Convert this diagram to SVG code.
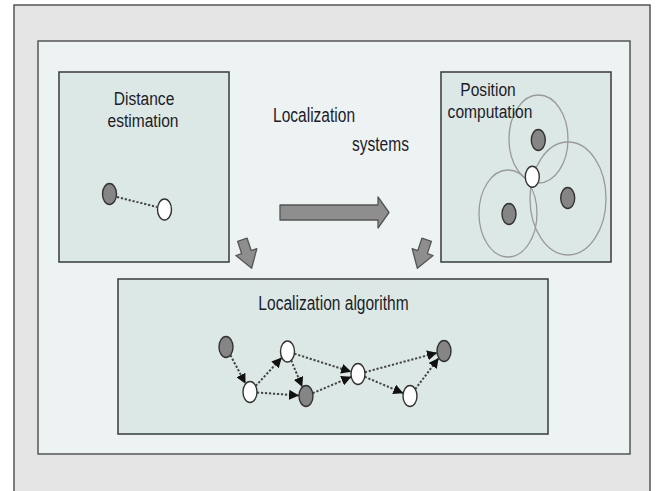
<svg xmlns="http://www.w3.org/2000/svg" width="661" height="491" viewBox="0 0 661 491">
  <defs>
    <style>
      .frame { fill: #e5e5e5; stroke: #555; stroke-width: 1.5; }
      .panel { fill: #edf3f3; stroke: #555; stroke-width: 1.5; }
      .box { fill: #dce8e5; stroke: #444; stroke-width: 1.6; }
      .lbl { font-family: "Liberation Sans", Arial, sans-serif; font-size: 21px; fill: #1c1c2a; }
      .sm { font-size: 19px; }
      .mid { text-anchor: middle; }
      .dark { fill: #858585; stroke: #333; stroke-width: 1.4; }
      .light { fill: #ffffff; stroke: #333; stroke-width: 1.4; }
      .ring { fill: none; stroke: #9a9a9a; stroke-width: 1.3; }
      .link { fill: none; stroke: #444; stroke-width: 2; stroke-dasharray: 2.2 1.8; }
      .block { fill: #8e8e8e; stroke: #555; stroke-width: 1.3; stroke-linejoin: round; }
    </style>
    <marker id="head" markerUnits="userSpaceOnUse" markerWidth="11" markerHeight="10" refX="10" refY="5" orient="auto">
      <path d="M0,0 L10,5 L0,10 Z" fill="#111"/>
    </marker>
  </defs>

  <!-- background frame and inner panel -->
  <rect class="frame" x="14" y="5" width="636" height="500"/>
  <rect class="panel" x="38" y="41" width="592" height="413"/>

  <!-- distance estimation -->
  <g id="distance-estimation">
    <rect class="box" x="59" y="72" width="170" height="190"/>
    <text class="lbl sm mid" transform="translate(144,105) scale(0.82,1)">Distance</text>
    <text class="lbl sm mid" transform="translate(143,127) scale(0.82,1)">estimation</text>
    <line class="link" x1="117" y1="197" x2="157" y2="207"/>
    <ellipse class="dark" cx="109.5" cy="194" rx="7" ry="10.5"/>
    <ellipse class="light" cx="164.5" cy="209.5" rx="7" ry="10.5"/>
  </g>

  <!-- position computation -->
  <g id="position-computation">
    <rect class="box" x="441" y="72" width="170" height="190"/>
    <ellipse class="ring" cx="538.5" cy="139" rx="29.5" ry="44"/>
    <ellipse class="ring" cx="568" cy="198.5" rx="38" ry="56.5"/>
    <ellipse class="ring" cx="508" cy="213.5" rx="29" ry="43.5"/>
    <ellipse class="dark" cx="538.3" cy="140" rx="7" ry="10.5"/>
    <ellipse class="dark" cx="567.7" cy="198" rx="7" ry="10.5"/>
    <ellipse class="dark" cx="509" cy="214" rx="7" ry="10.5"/>
    <ellipse class="light" cx="532.3" cy="176.7" rx="7" ry="10.5"/>
    <text class="lbl sm mid" transform="translate(488,95.5) scale(0.82,1)">Position</text>
    <text class="lbl sm mid" transform="translate(490,117.5) scale(0.82,1)">computation</text>
  </g>

  <!-- centre caption -->
  <g id="localization-systems">
    <text class="lbl" transform="translate(273,122) scale(0.74,1)">Localization</text>
    <text class="lbl" transform="translate(352,151) scale(0.74,1)">systems</text>
  </g>

  <!-- localization algorithm -->
  <g id="localization-algorithm">
    <rect class="box" x="118" y="279" width="430" height="155"/>
    <text class="lbl mid" transform="translate(333.5,310) scale(0.74,1)">Localization algorithm</text>
    <g id="algorithm-links">
      <line class="link" x1="230.4" y1="355.2" x2="245.6" y2="383.8" marker-end="url(#head)"/>
      <line class="link" x1="255.7" y1="385.9" x2="281.8" y2="357.6" marker-end="url(#head)"/>
      <line class="link" x1="257" y1="392.5" x2="299" y2="395.5" marker-end="url(#head)"/>
      <line class="link" x1="291.2" y1="360.4" x2="302.3" y2="387.1" marker-end="url(#head)"/>
      <line class="link" x1="294.4" y1="353.7" x2="351.2" y2="371.8" marker-end="url(#head)"/>
      <line class="link" x1="312.7" y1="393.2" x2="351.3" y2="376.8" marker-end="url(#head)"/>
      <line class="link" x1="364.9" y1="372.2" x2="437.1" y2="352.8" marker-end="url(#head)"/>
      <line class="link" x1="364.7" y1="376.8" x2="403.3" y2="393.2" marker-end="url(#head)"/>
      <line class="link" x1="415.3" y1="389.1" x2="438.7" y2="358" marker-end="url(#head)"/>
    </g>
    <g id="algorithm-nodes">
      <ellipse class="dark" cx="226" cy="347" rx="7" ry="10.5"/>
      <ellipse class="light" cx="250" cy="392" rx="7" ry="10.5"/>
      <ellipse class="light" cx="287.5" cy="351.5" rx="7" ry="10.5"/>
      <ellipse class="dark" cx="306" cy="396" rx="7" ry="10.5"/>
      <ellipse class="light" cx="358" cy="374" rx="7" ry="10.5"/>
      <ellipse class="light" cx="410" cy="396" rx="7" ry="10.5"/>
      <ellipse class="dark" cx="444" cy="351" rx="7" ry="10.5"/>
    </g>
  </g>

  <!-- block arrows between the stages -->
  <g id="connectors">
    <path class="block" d="M280,205 L378,205 L378,197 L389,212.5 L378,228 L378,220 L280,220 Z"/>
    <path class="block" transform="translate(247,254) rotate(-18)" d="M-5,-15 L5,-15 L5,-2 L11,-2 L0,15 L-11,-2 L-5,-2 Z"/>
    <path class="block" transform="translate(422,254) rotate(18)" d="M-5,-15 L5,-15 L5,-2 L11,-2 L0,15 L-11,-2 L-5,-2 Z"/>
  </g>
</svg>
